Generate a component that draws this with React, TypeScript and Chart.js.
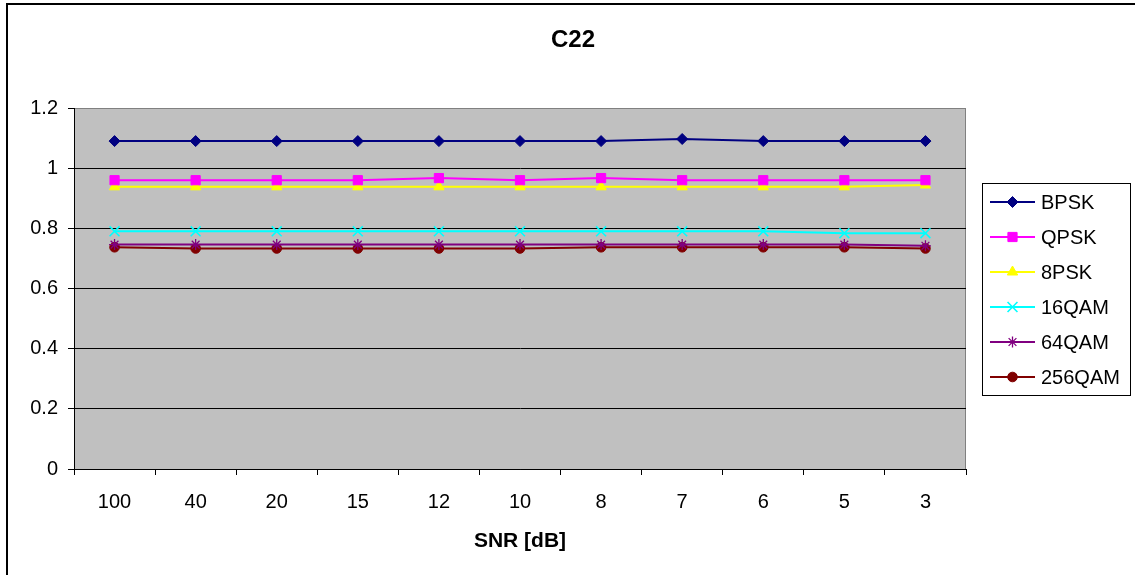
import React, { useEffect, useRef } from "react";
import { Chart, registerables } from "chart.js";
import { drawPoint } from "chart.js/helpers";

Chart.register(...registerables);

const categories = ["100", "40", "20", "15", "12", "10", "8", "7", "6", "5", "3"];
const yTicks = [0, 0.2, 0.4, 0.6, 0.8, 1, 1.2];

const bpsk = [1.09, 1.09, 1.09, 1.09, 1.09, 1.09, 1.09, 1.097, 1.09, 1.09, 1.09];
const qpsk = [0.96, 0.96, 0.96, 0.96, 0.967, 0.96, 0.967, 0.96, 0.96, 0.96, 0.96];
const psk8 = [0.938, 0.938, 0.938, 0.938, 0.938, 0.938, 0.938, 0.938, 0.938, 0.938, 0.944];
const qam16 = [0.79, 0.79, 0.79, 0.79, 0.79, 0.79, 0.79, 0.79, 0.79, 0.784, 0.784];
const qam64 = [0.746, 0.746, 0.746, 0.746, 0.746, 0.746, 0.746, 0.746, 0.746, 0.746, 0.742];
const qam256 = [0.737, 0.733, 0.733, 0.733, 0.733, 0.733, 0.737, 0.737, 0.737, 0.737, 0.733];

const seriesNames = ["BPSK", "QPSK", "8PSK", "16QAM", "64QAM", "256QAM"];
const seriesData = [bpsk, qpsk, psk8, qam16, qam64, qam256];
const seriesColors = ["#000080", "#FF00FF", "#FFFF00", "#00FFFF", "#800080", "#800000"];
const seriesStyles = ["rectRot", "rect", "triangle", "crossRot", "star", "circle"];
const seriesRadius = [5.5, 6.5, 6, 7, 5.5, 4.8];
const seriesBorder = [1, 1, 1, 1.6, 1.3, 1];

const FONT = "'Liberation Sans', Arial, sans-serif";

const framePlugin = {
  id: "framePlugin",
  beforeDraw(chart: any) {
    const { ctx, chartArea } = chart;
    ctx.save();
    ctx.fillStyle = "#ffffff";
    ctx.fillRect(0, 0, chart.width, chart.height);
    ctx.strokeStyle = "#000000";
    ctx.lineWidth = 2;
    ctx.strokeRect(7, 4, 1200, 700);
    ctx.fillStyle = "#C0C0C0";
    ctx.fillRect(chartArea.left, chartArea.top, chartArea.right - chartArea.left, chartArea.bottom - chartArea.top);
    ctx.strokeStyle = "#808080";
    ctx.lineWidth = 1;
    ctx.strokeRect(chartArea.left + 0.5, chartArea.top + 0.5, chartArea.right - chartArea.left - 1, chartArea.bottom - chartArea.top);
    ctx.restore();
  },
  afterDraw(chart: any) {
    const { ctx } = chart;
    ctx.save();
    // title
    ctx.fillStyle = "#000";
    ctx.font = `bold 24px ${FONT}`;
    ctx.textAlign = "center";
    ctx.textBaseline = "middle";
    ctx.fillText("C22", 573, 40);
    // legend
    ctx.strokeStyle = "#000";
    ctx.lineWidth = 1;
    ctx.strokeRect(982.5, 183.5, 148, 212);
    ctx.font = `20px ${FONT}`;
    ctx.textAlign = "left";
    seriesNames.forEach((name, i) => {
      const y = 202 + 35 * i;
      ctx.strokeStyle = seriesColors[i];
      ctx.fillStyle = seriesColors[i];
      ctx.lineWidth = 2;
      ctx.beginPath();
      ctx.moveTo(990, y);
      ctx.lineTo(1035, y);
      ctx.stroke();
      ctx.lineWidth = seriesBorder[i];
      drawPoint(ctx, { pointStyle: seriesStyles[i], rotation: 0, radius: seriesRadius[i], borderWidth: seriesBorder[i] }, 1012.5, y);
      ctx.fillStyle = "#000";
      ctx.fillText(name, 1041, y + 1);
    });
    ctx.restore();
  },
};

export default function App() {
  const ref = useRef<HTMLCanvasElement | null>(null);
  useEffect(() => {
    if (!ref.current) return;
    const chart = new Chart(ref.current, {
      type: "line",
      data: {
        labels: categories,
        datasets: seriesNames.map((name, i) => ({
          label: name,
          data: seriesData[i],
          borderColor: seriesColors[i],
          backgroundColor: seriesColors[i],
          borderWidth: 2,
          pointStyle: seriesStyles[i] as any,
          pointRadius: seriesRadius[i],
          pointBorderWidth: seriesBorder[i],
          pointBorderColor: seriesColors[i],
          pointBackgroundColor: seriesColors[i],
          tension: 0,
          fill: false,
        })),
      },
      options: {
        responsive: false,
        animation: false,
        devicePixelRatio: 1,
        layout: { padding: { left: 0, right: 169, top: 108, bottom: 0 } },
        plugins: {
          legend: { display: false },
          title: { display: false },
          tooltip: { enabled: false },
        },
        scales: {
          x: {
            type: "category",
            offset: true,
            grid: {
              offset: true,
              drawOnChartArea: false,
              drawTicks: true,
              tickLength: 6,
              tickColor: "#000",
              color: "#000",
            },
            border: { color: "#000", width: 1 },
            ticks: {
              color: "#000",
              font: { family: FONT, size: 20 },
              padding: 15,
              maxRotation: 0,
              autoSkip: false,
            },
            title: {
              display: true,
              text: "SNR [dB]",
              color: "#000",
              font: { family: FONT, size: 21, weight: "bold" },
              padding: { top: 0, bottom: 21 },
            },
            afterFit(scale: any) {
              scale.height = 106;
            },
          },
          y: {
            min: 0,
            max: 1.2,
            afterBuildTicks(scale: any) {
              scale.ticks = yTicks.map((v) => ({ value: v }));
            },
            grid: {
              color: (c: any) => (c.tick && c.tick.value >= 1.19 ? "rgba(0,0,0,0)" : "#000"),
              tickColor: "#000",
              tickLength: 6,
              lineWidth: 1,
            },
            border: { color: "#000", width: 1 },
            ticks: {
              color: "#000",
              font: { family: FONT, size: 20 },
              padding: 10,
              callback: (v: any) => String(Math.round(Number(v) * 10) / 10),
            },
            afterFit(scale: any) {
              scale.width = 74;
            },
          },
        },
      },
      plugins: [framePlugin],
    });
    return () => chart.destroy();
  }, []);
  return (
    <div style={{ position: "absolute", left: 0, top: 0, width: 1135, height: 575 }}>
      <canvas ref={ref} width={1135} height={575} style={{ display: "block" }} />
    </div>
  );
}
